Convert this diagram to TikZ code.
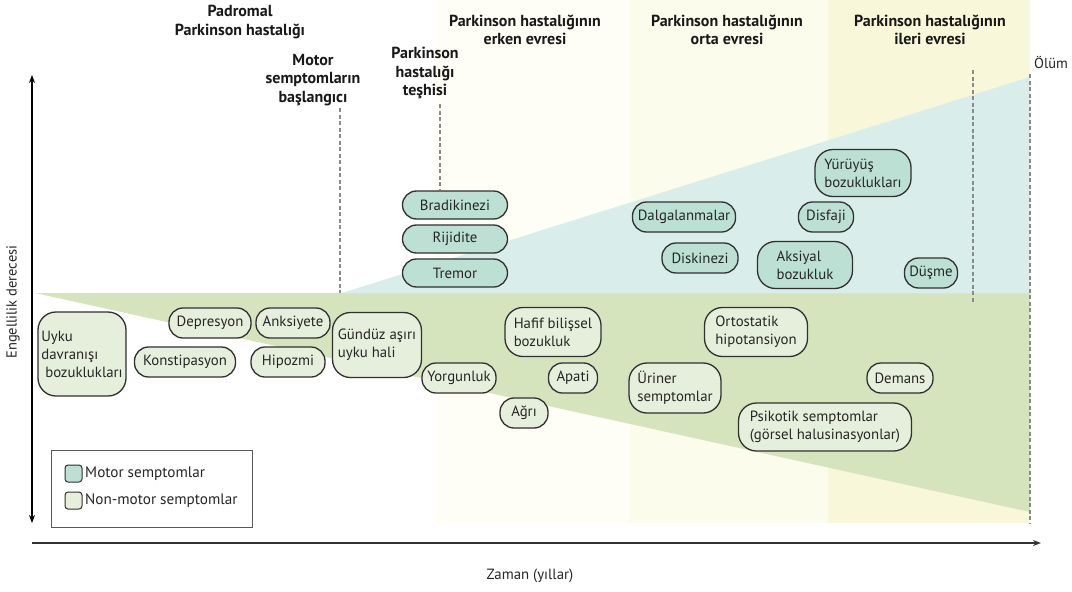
\documentclass[tikz,border=0pt]{standalone}
\usepackage{fontspec}
\setmainfont{PT Sans}
\usetikzlibrary{arrows.meta}
\definecolor{motorfill}{HTML}{BDE0D4}
\definecolor{nmfill}{HTML}{E6EEDC}
\definecolor{blueregion}{HTML}{D9EDEB}
\definecolor{greenregion}{HTML}{D6E4BE}
\definecolor{earlyp}{HTML}{FEFEF6}
\definecolor{middlep}{HTML}{FCFCEC}
\definecolor{advp}{HTML}{F9F7DA}
\definecolor{boxline}{HTML}{303030}
\definecolor{dashgray}{HTML}{8A8A8A}
\tikzset{
  symbox/.style={draw=boxline, line width=1.3pt, rounded corners=14pt, inner sep=0pt,
     font=\fontsize{14.8}{18}\selectfont, text=black!85, align=left},
  mot/.style={symbox, fill=motorfill},
  nm/.style={symbox, fill=nmfill},
  hdr/.style={font=\fontsize{16}{18.7}\selectfont\bfseries, align=center, text=black!90},
  dline/.style={draw=dashgray, line width=1.1pt, dash pattern=on 4pt off 2.5pt},
  plain/.style={font=\fontsize{14.8}{18}\selectfont, text=black!85},
}
\begin{document}
\begin{tikzpicture}[x=1pt,y=-1pt]
\useasboundingbox (0,0) rectangle (1072,592);
\fill[white] (0,0) rectangle (1072,592);
% stage panels
\fill[earlyp] (435,0) rectangle (630,523);
\fill[middlep] (630,0) rectangle (828,523);
\fill[advp] (828,0) rectangle (1030,523);
% regions
\fill[greenregion] (35,293) -- (1030,293) -- (1030,512) -- cycle;
\fill[blueregion] (342,293) -- (1030,77) -- (1030,293) -- cycle;
% headers
\node[hdr] (pad) at (240,22) {Padromal\\Parkinson hastalığı};
\node[hdr] (motlbl) at (313,80) {Motor\\semptomların\\başlangıcı};
\node[hdr] (teslbl) at (425,73) {Parkinson\\hastalığı\\teşhisi};
\node[hdr] (erken) at (525,30) {Parkinson hastalığının\\erken evresi};
\node[hdr] (orta) at (727,30) {Parkinson hastalığının\\orta evresi};
\node[hdr] (ileri) at (930,30) {Parkinson hastalığının\\ileri evresi};
\node[plain, font=\fontsize{14.5}{17}\selectfont] (olum) at (1051,62) {Ölüm};
% dashed line end points
\coordinate (motend) at (340,293);
\coordinate (motstart) at (340,108);
\coordinate (tesstart) at (440,104);
\coordinate (ilstart) at (973,70);
\coordinate (ilend) at (973,302);
\coordinate (olstart) at (1030,74);
\coordinate (olend) at (1030,523);
% motor boxes
\node[mot, minimum width=105pt, minimum height=28pt] (brad) at (455,205) {Bradikinezi};
\node[mot, minimum width=105pt, minimum height=28pt] (rij) at (455,239) {Rijidite};
\node[mot, minimum width=105pt, minimum height=28pt] (trem) at (455,273) {Tremor};
\draw[dline] (motstart) -- (motend);
\draw[dline] (tesstart) -- (brad.north -| tesstart);
\draw[dline] (ilstart) -- (ilend);
\draw[dline] (olstart) -- (olend);
\node[mot, minimum width=103pt, minimum height=30pt] (dalg) at (684,217) {Dalgalanmalar};
\node[mot, minimum width=55pt, minimum height=30pt] (disf) at (826,217) {Disfaji};
\node[mot, minimum width=96pt, minimum height=47pt, rounded corners=18pt] (yuru) at (863,173) {Yürüyüş\\bozuklukları};
\node[mot, minimum width=76pt, minimum height=30pt] (disk) at (700,258) {Diskinezi};
\node[mot, minimum width=95pt, minimum height=47pt, rounded corners=18pt] (aks) at (805,265) {Aksiyal\\bozukluk};
\node[mot, minimum width=53pt, minimum height=30pt] (dusme) at (931,273) {Düşme};
% non-motor boxes
\node[nm, minimum width=88pt, minimum height=84pt, rounded corners=18pt] (uyku) at (82,354) {Uyku\\davranışı\\\ bozuklukları};
\node[nm, minimum width=82pt, minimum height=30pt] (dep) at (210,323) {Depresyon};
\node[nm, minimum width=74pt, minimum height=30pt] (anks) at (293,323) {Anksiyete};
\node[nm, minimum width=101pt, minimum height=30pt] (konst) at (185,362) {Konstipasyon};
\node[nm, minimum width=74pt, minimum height=30pt] (hipoz) at (288,362) {Hipozmi};
\node[nm, minimum width=89pt, minimum height=65pt, rounded corners=18pt] (gunduz) at (377,345) {Gündüz aşırı\\uyku hali};
\node[nm, minimum width=74pt, minimum height=30pt] (yorg) at (459,378) {Yorgunluk};
\node[nm, minimum width=48pt, minimum height=30pt] (agri) at (524,413) {Ağrı};
\node[nm, minimum width=96pt, minimum height=49pt, rounded corners=18pt] (hafif) at (553,332) {Hafif bilişsel\\bozukluk};
\node[nm, minimum width=49pt, minimum height=30pt] (apati) at (573,378) {Apati};
\node[nm, minimum width=92pt, minimum height=50pt, rounded corners=18pt] (uriner) at (675,388) {Üriner\\semptomlar};
\node[nm, minimum width=103pt, minimum height=49pt, rounded corners=18pt] (orto) at (756,332) {Ortostatik\\hipotansiyon};
\node[nm, minimum width=66pt, minimum height=30pt] (demans) at (900,378) {Demans};
\node[nm, minimum width=173pt, minimum height=48pt, rounded corners=18pt] (psik) at (825,427) {Psikotik semptomlar\\(görsel halusinasyonlar)};
% legend
\node[draw=black!65, line width=1pt, minimum width=201pt, minimum height=77pt, inner sep=0pt] (legend) at (151.5,488.5) {};
\node[draw=boxline, fill=motorfill, line width=1pt, rounded corners=3pt, minimum size=17pt, inner sep=0pt] (swm) at (73.5,473.5) {};
\node[draw=boxline, fill=nmfill, line width=1pt, rounded corners=3pt, minimum size=17pt, inner sep=0pt] (swn) at (73.5,500.5) {};
\node[plain, anchor=west, inner sep=0pt, font=\fontsize{15.2}{18}\selectfont] (lm) at (swm.east) {\,Motor semptomlar};
\node[plain, anchor=west, inner sep=0pt, font=\fontsize{15.2}{18}\selectfont] (ln) at (swn.east) {\,Non-motor semptomlar};
% axes
\coordinate (ytop) at (32,75);
\coordinate (ybot) at (32,523);
\coordinate (xl) at (32,543);
\coordinate (xr) at (1041,543);
\draw[line width=1.5pt, {Stealth[length=8pt,width=6pt]}-{Stealth[length=8pt,width=6pt]}] (ytop) -- (ybot);
\draw[line width=2pt, draw=black!80, -{Stealth[length=8pt,width=6pt]}] (xl) -- (xr);
\node[plain, rotate=90, font=\fontsize{14.5}{17}\selectfont] (ylab) at (13,302) {Engellilik derecesi};
\node[plain, font=\fontsize{14.8}{17}\selectfont] (xlab) at (530,576) {Zaman (yıllar)};
\end{tikzpicture}
\end{document}
